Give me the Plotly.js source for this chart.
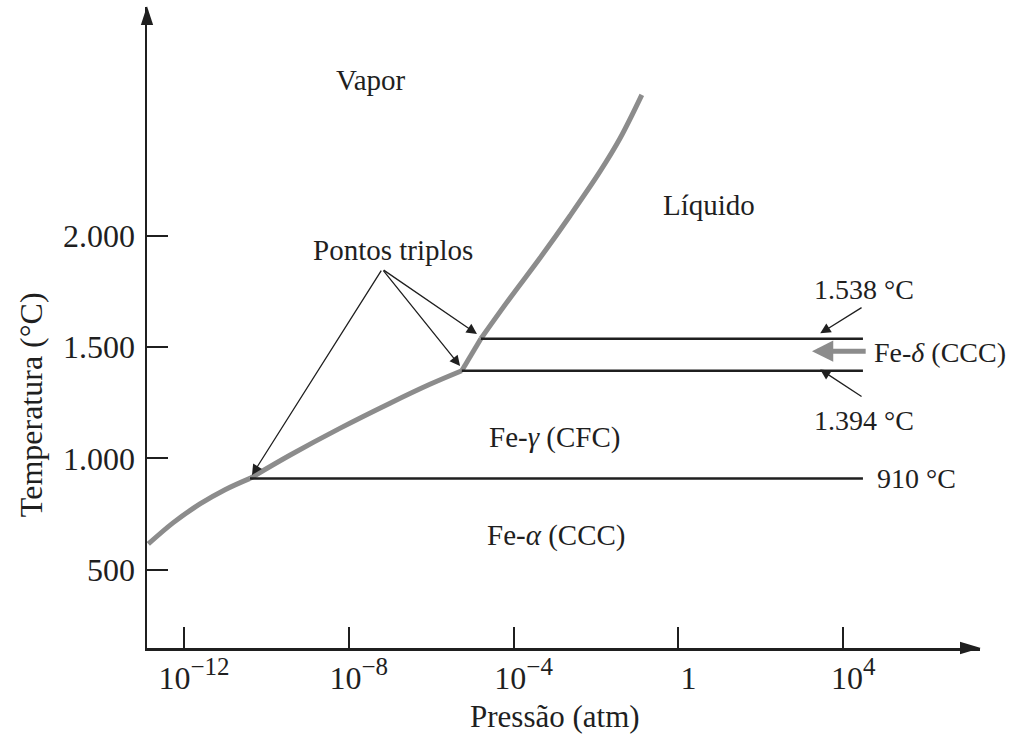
<!DOCTYPE html>
<html>
<head>
<meta charset="utf-8">
<script src="https://cdn.plot.ly/plotly-3.0.1.min.js"></script>
<style>
  html, body { margin: 0; padding: 0; background: #ffffff; }
  #chart { width: 1023px; height: 736px; }
</style>
</head>
<body>
<div id="chart"></div>
<script>
// ---- Data ----
const pressureTicks = [1e-12, 1e-8, 1e-4, 1, 1e4];
const pressureTickLabels = [
  '10<sup><span style="font-size:25px">\u221212</span></sup>',
  '10<sup><span style="font-size:25px">\u22128</span></sup>',
  '10<sup><span style="font-size:25px">\u22124</span></sup>',
  '1',
  '10<sup><span style="font-size:25px">4</span></sup>'
];
const tempTicks = [500, 1000, 1500, 2000];
const tempTickLabels = ['500', '1.000', '1.500', '2.000'];

// alpha-iron - vapor boundary
const alphaVapP = [1.36e-13, 5.5e-13, 2.44e-12, 9.9e-12, 4.0e-11];
const alphaVapT = [615, 711, 795, 859, 910];
// gamma-iron - vapor boundary
const gammaVapP = [4.0e-11, 3.7e-10, 6.2e-9, 1.0e-7, 9.3e-7, 5.5e-6];
const gammaVapT = [910, 1014, 1136, 1248, 1333, 1394];
// delta-iron - vapor boundary
const deltaVapP = [5.5e-6, 1.6e-5];
const deltaVapT = [1394, 1538];
// liquid - vapor boundary
const liqVapP = [1.6e-5, 8.2e-5, 4.4e-4, 2.34e-3, 1.25e-2, 3.83e-2, 0.129];
const liqVapT = [1538, 1721, 1902, 2091, 2290, 2439, 2634];

// horizontal transition lines
const transitionT = [910, 1394, 1538];
const transitionStartP = [4.0e-11, 5.5e-6, 1.6e-5];
const transitionEndP = 3e4;

// ---- Styles ----
const FONT = 'Liberation Serif, Times New Roman, serif';
const INK = '#1f1f1f';
const GRAY = '#8c8c8c';

const traces = [];
const curveStyle = { color: GRAY, width: 5 };
function curve(px, py, spline) {
  const line = Object.assign({}, curveStyle);
  if (spline) { line.shape = 'spline'; line.smoothing = 1; }
  traces.push({ x: px, y: py, mode: 'lines', line: line, hoverinfo: 'skip', showlegend: false });
}
curve(alphaVapP, alphaVapT, true);
curve(gammaVapP, gammaVapT, true);
curve(deltaVapP, deltaVapT, false);
curve(liqVapP, liqVapT, true);
transitionT.forEach(function (t, i) {
  traces.push({ x: [transitionStartP[i], transitionEndP], y: [t, t], mode: 'lines', line: { color: INK, width: 2.5 }, hoverinfo: 'skip', showlegend: false });
});

function label(text, x, y, opts) {
  return Object.assign({ text: text, x: x, y: y, xref: 'x', yref: 'y', showarrow: false,
    font: { family: FONT, size: 29, color: INK }, xanchor: 'center', yanchor: 'middle' }, opts || {});
}
function arrow(x, y, ax, ay, opts) {
  return Object.assign({ text: '', x: x, y: y, ax: ax, ay: ay, xref: 'x', yref: 'y', axref: 'x', ayref: 'y',
    showarrow: true, arrowhead: 2, arrowsize: 1.6, arrowwidth: 1.3, arrowcolor: INK, standoff: 0, startstandoff: 0 }, opts || {});
}

const annotations = [
  label('Vapor', -7.46, 2701),
  label('L\u00edquido', 0.74, 2139),
  label('Pontos triplos', -6.93, 1937),
  label('Fe-<i>\u03b3</i> (CFC)', -3.0, 1096),
  label('Fe-<i>\u03b1</i> (CCC)', -2.95, 655),
  label('1.538 \u00b0C', 4.5, 1757, { font: { family: FONT, size: 28, color: INK } }),
  label('1.394 \u00b0C', 4.5, 1172, { font: { family: FONT, size: 28, color: INK } }),
  label('Fe-<i>\u03b4</i> (CCC)', 4.70, 1478, { xanchor: 'left', font: { family: FONT, size: 28, color: INK } }),
  label('910 \u00b0C', 4.77, 910, { xanchor: 'left', font: { family: FONT, size: 28, color: INK } }),
  // triple point arrows
  arrow(-10.35, 925, -7.19, 1851),
  arrow(-5.30, 1415, -7.19, 1851),
  arrow(-4.89, 1559, -7.19, 1851),
  // temperature arrows
  arrow(3.44, 1562, 4.48, 1682),
  arrow(3.44, 1400, 4.48, 1274),
  // delta phase arrow (gray, thick)
  arrow(3.24, 1482, 4.58, 1482, { arrowcolor: GRAY, arrowwidth: 5, arrowsize: 0.85, arrowhead: 2 }),
  // axis titles
  { text: 'Press\u00e3o (atm)', xref: 'paper', yref: 'paper', x: 0.49, y: -0.1076, showarrow: false,
    font: { family: FONT, size: 31, color: INK }, xanchor: 'center', yanchor: 'middle' },
  { text: 'Temperatura (\u00b0C)', xref: 'paper', yref: 'paper', x: -0.1384, y: 0.38, showarrow: false, textangle: -90,
    font: { family: FONT, size: 32, color: INK }, xanchor: 'center', yanchor: 'middle' }
];

const shapes = [
  // x-axis arrowhead
  { type: 'path', xref: 'paper', yref: 'paper', path: 'M1.001,0 L0.976,0.0098 L0.976,-0.0098 Z', fillcolor: INK, line: { width: 0 } },
  // y-axis arrowhead
  { type: 'path', xref: 'paper', yref: 'paper', path: 'M0,1.001 L-0.0074,0.972 L0.0074,0.972 Z', fillcolor: INK, line: { width: 0 } }
];

const layout = {
  width: 1023, height: 736,
  margin: { l: 147, r: 43, t: 7, b: 88 },
  paper_bgcolor: '#ffffff', plot_bgcolor: '#ffffff',
  showlegend: false,
  xaxis: {
    type: 'log', range: [-12.898, 7.318],
    showgrid: false, zeroline: false,
    showline: true, linecolor: INK, linewidth: 2.5,
    ticks: 'inside', ticklen: 21, tickwidth: 2, tickcolor: INK,
    tickvals: pressureTicks, ticktext: pressureTickLabels,
    tickfont: { family: FONT, size: 32, color: INK },
    ticklabelshift: 10,
    fixedrange: true
  },
  yaxis: {
    range: [147.4, 3029.3],
    showgrid: false, zeroline: false,
    showline: true, linecolor: INK, linewidth: 2.5,
    ticks: 'inside', ticklen: 21, tickwidth: 2, tickcolor: INK,
    tickvals: tempTicks, ticktext: tempTickLabels,
    tickfont: { family: FONT, size: 32, color: INK },
    ticklabelstandoff: 3,
    fixedrange: true
  },
  annotations: annotations,
  shapes: shapes
};

Plotly.newPlot('chart', traces, layout, { displayModeBar: false, staticPlot: true });
</script>
</body>
</html>
